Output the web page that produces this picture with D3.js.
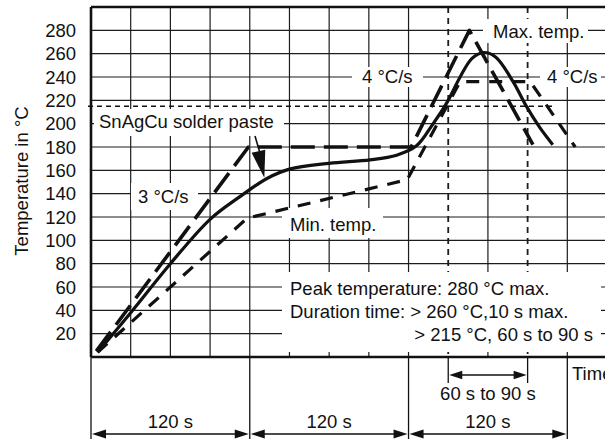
<!DOCTYPE html>
<html>
<head>
<meta charset="utf-8">
<script src="https://cdn.jsdelivr.net/npm/d3@7"></script>
<style>
  body { margin: 0; background: #fff; }
  svg { display: block; font-family: "Liberation Sans", Arial, Helvetica, sans-serif; font-size: 18.5px; fill: #111; }
  .grid line { stroke: #1c1c1c; stroke-width: 1.2; }
  .frame { stroke: #111; stroke-width: 2.6; fill: none; }
  .guide { stroke: #111; stroke-width: 1.3; fill: none; }
  .profile { fill: none; stroke: #111; stroke-linecap: butt; stroke-linejoin: round; }
</style>
</head>
<body>
<div id="chart"></div>
<script>
// reflow profile SnAgCu - time in s, temperature in degC
var yTicks = [20, 40, 60, 80, 100, 120, 140, 160, 180, 200, 220, 240, 260, 280]
var gridTimes = [30, 60, 90, 120, 150, 180, 210, 240, 300, 360]
var dashedTimes = [270, 330]
var sectionBounds = [0, 120, 240, 360]
var sectionLabels = ['120 s', '120 s', '120 s']
var liquidusTemp = 215

// solder paste (measured profile)
var pasteTime = [5, 30, 60, 90, 112, 133, 150, 180, 211, 231, 246, 258, 269, 279, 288, 297, 306, 319, 329, 339, 349]
var pasteTemp = [4, 38, 80, 118, 137, 153, 161, 166, 169, 173, 181, 199, 218, 240, 256, 261, 257, 236, 215, 197, 182]

// max. temp envelope
var maxTime = [4, 119, 242, 286, 334]
var maxTemp = [5, 180, 180, 280, 182]

// min. temp envelope
var minTime = [5, 118, 239, 279, 332, 366]
var minTemp = [4, 119, 152, 236, 236, 180]

var width = 605, height = 439

var svg = d3.select('#chart').append('svg')
  .attr('width', width)
  .attr('height', height)

var x = d3.scaleLinear().domain([0, 390]).range([91, 607])
var y = d3.scaleLinear().domain([0, 300]).range([357, 7])

// grid
var grid = svg.append('g').attr('class', 'grid')

grid.selectAll('line.h').data(yTicks).enter().append('line')
  .attr('class', 'h')
  .attr('x1', x(0)).attr('x2', width)
  .attr('y1', function(d){ return y(d) }).attr('y2', function(d){ return y(d) })

grid.selectAll('line.v').data(gridTimes).enter().append('line')
  .attr('class', 'v')
  .attr('x1', function(d){ return x(d) }).attr('x2', function(d){ return x(d) })
  .attr('y1', y(300)).attr('y2', y(0))

grid.selectAll('line.d').data(dashedTimes).enter().append('line')
  .attr('class', 'd')
  .attr('x1', function(d){ return x(d) }).attr('x2', function(d){ return x(d) })
  .attr('y1', y(300)).attr('y2', y(0))
  .style('stroke-width', 1.8)
  .style('stroke-dasharray', '6 5')

// 215 degC line
svg.append('line')
  .attr('x1', x(0) - 3).attr('x2', x(351))
  .attr('y1', y(liquidusTemp)).attr('y2', y(liquidusTemp))
  .style('stroke', '#111').style('stroke-width', 1.5)
  .style('stroke-dasharray', '5 4')

// y labels
svg.append('g').selectAll('text').data(yTicks).enter().append('text')
  .attr('x', 76)
  .attr('y', function(d){ return y(d) })
  .attr('dy', '0.36em')
  .attr('text-anchor', 'end')
  .text(function(d){ return d })

svg.append('text')
  .attr('transform', 'translate(28,181) rotate(-90)')
  .attr('text-anchor', 'middle')
  .text('Temperature in °C')

// white label boxes hiding the grid
function note(box, lines){
  var g = svg.append('g')
  g.append('rect')
    .attr('x', box[0]).attr('y', box[1])
    .attr('width', box[2] - box[0]).attr('height', box[3] - box[1])
    .style('fill', '#fff')
  lines.forEach(function(l){
    g.append('text')
      .attr('x', l[1]).attr('y', l[2])
      .attr('text-anchor', l[3] || 'start')
      .text(l[0])
  })
}

note([94, 109, 284, 136], [['SnAgCu solder paste', 99, 128]])
note([131, 183, 198, 210], [['3 °C/s', 138, 203]])
note([282, 208, 383, 238], [['Min. temp.', 290, 231]])
note([352, 67, 423, 87], [['4 °C/s', 362, 83]])
note([540, 67, 601, 87], [['4 °C/s', 547, 83]])
note([483, 19, 588, 43], [['Max. temp.', 493, 38]])
note([282, 272, 601, 352], [
  ['Peak temperature: 280 °C max.', 290, 295],
  ['Duration time: > 260 °C,10 s max.', 290, 318],
  ['> 215 °C, 60 s to 90 s', 593, 341, 'end']
])

// profiles
var line = d3.line()
  .x(function(d){ return x(d[0]) })
  .y(function(d){ return y(d[1]) })

svg.append('path').attr('class', 'profile')
  .attr('d', line(d3.zip(minTime, minTemp)))
  .style('stroke-width', 3.2)
  .style('stroke-dasharray', '13 10')

svg.append('path').attr('class', 'profile')
  .attr('d', line(d3.zip(maxTime, maxTemp)))
  .style('stroke-width', 3.6)
  .style('stroke-dasharray', '24 9')

svg.append('path').attr('class', 'profile')
  .attr('d', line.curve(d3.curveCatmullRom)(d3.zip(pasteTime, pasteTemp)))
  .style('stroke-width', 3.2)

// arrow to the paste curve
function arrowHead(x1, y1, x2, y2, len, half){
  var a = Math.atan2(y2 - y1, x2 - x1)
  var bx = x2 - len * Math.cos(a), by = y2 - len * Math.sin(a)
  var px = -Math.sin(a) * half, py = Math.cos(a) * half
  return 'M' + x2 + ',' + y2 + 'L' + (bx + px) + ',' + (by + py) + 'L' + (bx - px) + ',' + (by - py) + 'Z'
}

var tipT = 131
var tip = [x(tipT), y(152) - 2]
svg.append('line').attr('class', 'guide')
  .attr('x1', 255).attr('y1', 136).attr('x2', tip[0] - 3).attr('y2', tip[1] - 20)
  .style('stroke-width', 1.6)
svg.append('path')
  .attr('d', arrowHead(255, 136, tip[0], tip[1], 27, 7))
  .style('fill', '#111')

// frame
svg.append('line').attr('class', 'frame')
  .attr('x1', x(0)).attr('x2', width).attr('y1', y(300)).attr('y2', y(300))
svg.append('line').attr('class', 'frame')
  .attr('x1', x(0)).attr('x2', width).attr('y1', y(0)).attr('y2', y(0))
svg.append('line').attr('class', 'frame')
  .attr('x1', x(0)).attr('x2', x(0)).attr('y1', y(300)).attr('y2', y(0))

svg.append('text').attr('x', 572).attr('y', 380).text('Time')

// sections under the axis
svg.selectAll('line.ext').data(sectionBounds).enter().append('line')
  .attr('class', 'guide ext')
  .attr('x1', function(d){ return x(d) }).attr('x2', function(d){ return x(d) })
  .attr('y1', y(0)).attr('y2', height)

var arrowY = 434
sectionLabels.forEach(function(lbl, i){
  var a = x(sectionBounds[i]) + 1, b = x(sectionBounds[i + 1]) - 1
  svg.append('line').attr('class', 'guide')
    .attr('x1', a + 8).attr('x2', b - 8).attr('y1', arrowY).attr('y2', arrowY)
  svg.append('path').attr('d', arrowHead(b, arrowY, a, arrowY, 14, 4.5)).style('fill', '#111')
  svg.append('path').attr('d', arrowHead(a, arrowY, b, arrowY, 14, 4.5)).style('fill', '#111')
  svg.append('text')
    .attr('x', (a + b) / 2).attr('y', 428)
    .attr('text-anchor', 'middle')
    .text(lbl)
})

// 60 s to 90 s
svg.selectAll('line.ext2').data(dashedTimes).enter().append('line')
  .attr('class', 'guide ext2')
  .attr('x1', function(d){ return x(d) }).attr('x2', function(d){ return x(d) })
  .attr('y1', y(0)).attr('y2', 383)

var a2 = x(dashedTimes[0]) + 1, b2 = x(dashedTimes[1]) - 1
svg.append('line').attr('class', 'guide')
  .attr('x1', a2 + 8).attr('x2', b2 - 8).attr('y1', 375).attr('y2', 375)
svg.append('path').attr('d', arrowHead(b2, 375, a2, 375, 13, 4.2)).style('fill', '#111')
svg.append('path').attr('d', arrowHead(a2, 375, b2, 375, 13, 4.2)).style('fill', '#111')
svg.append('text')
  .attr('x', (a2 + b2) / 2).attr('y', 400)
  .attr('text-anchor', 'middle')
  .text('60 s to 90 s')
</script>
</body>
</html>
